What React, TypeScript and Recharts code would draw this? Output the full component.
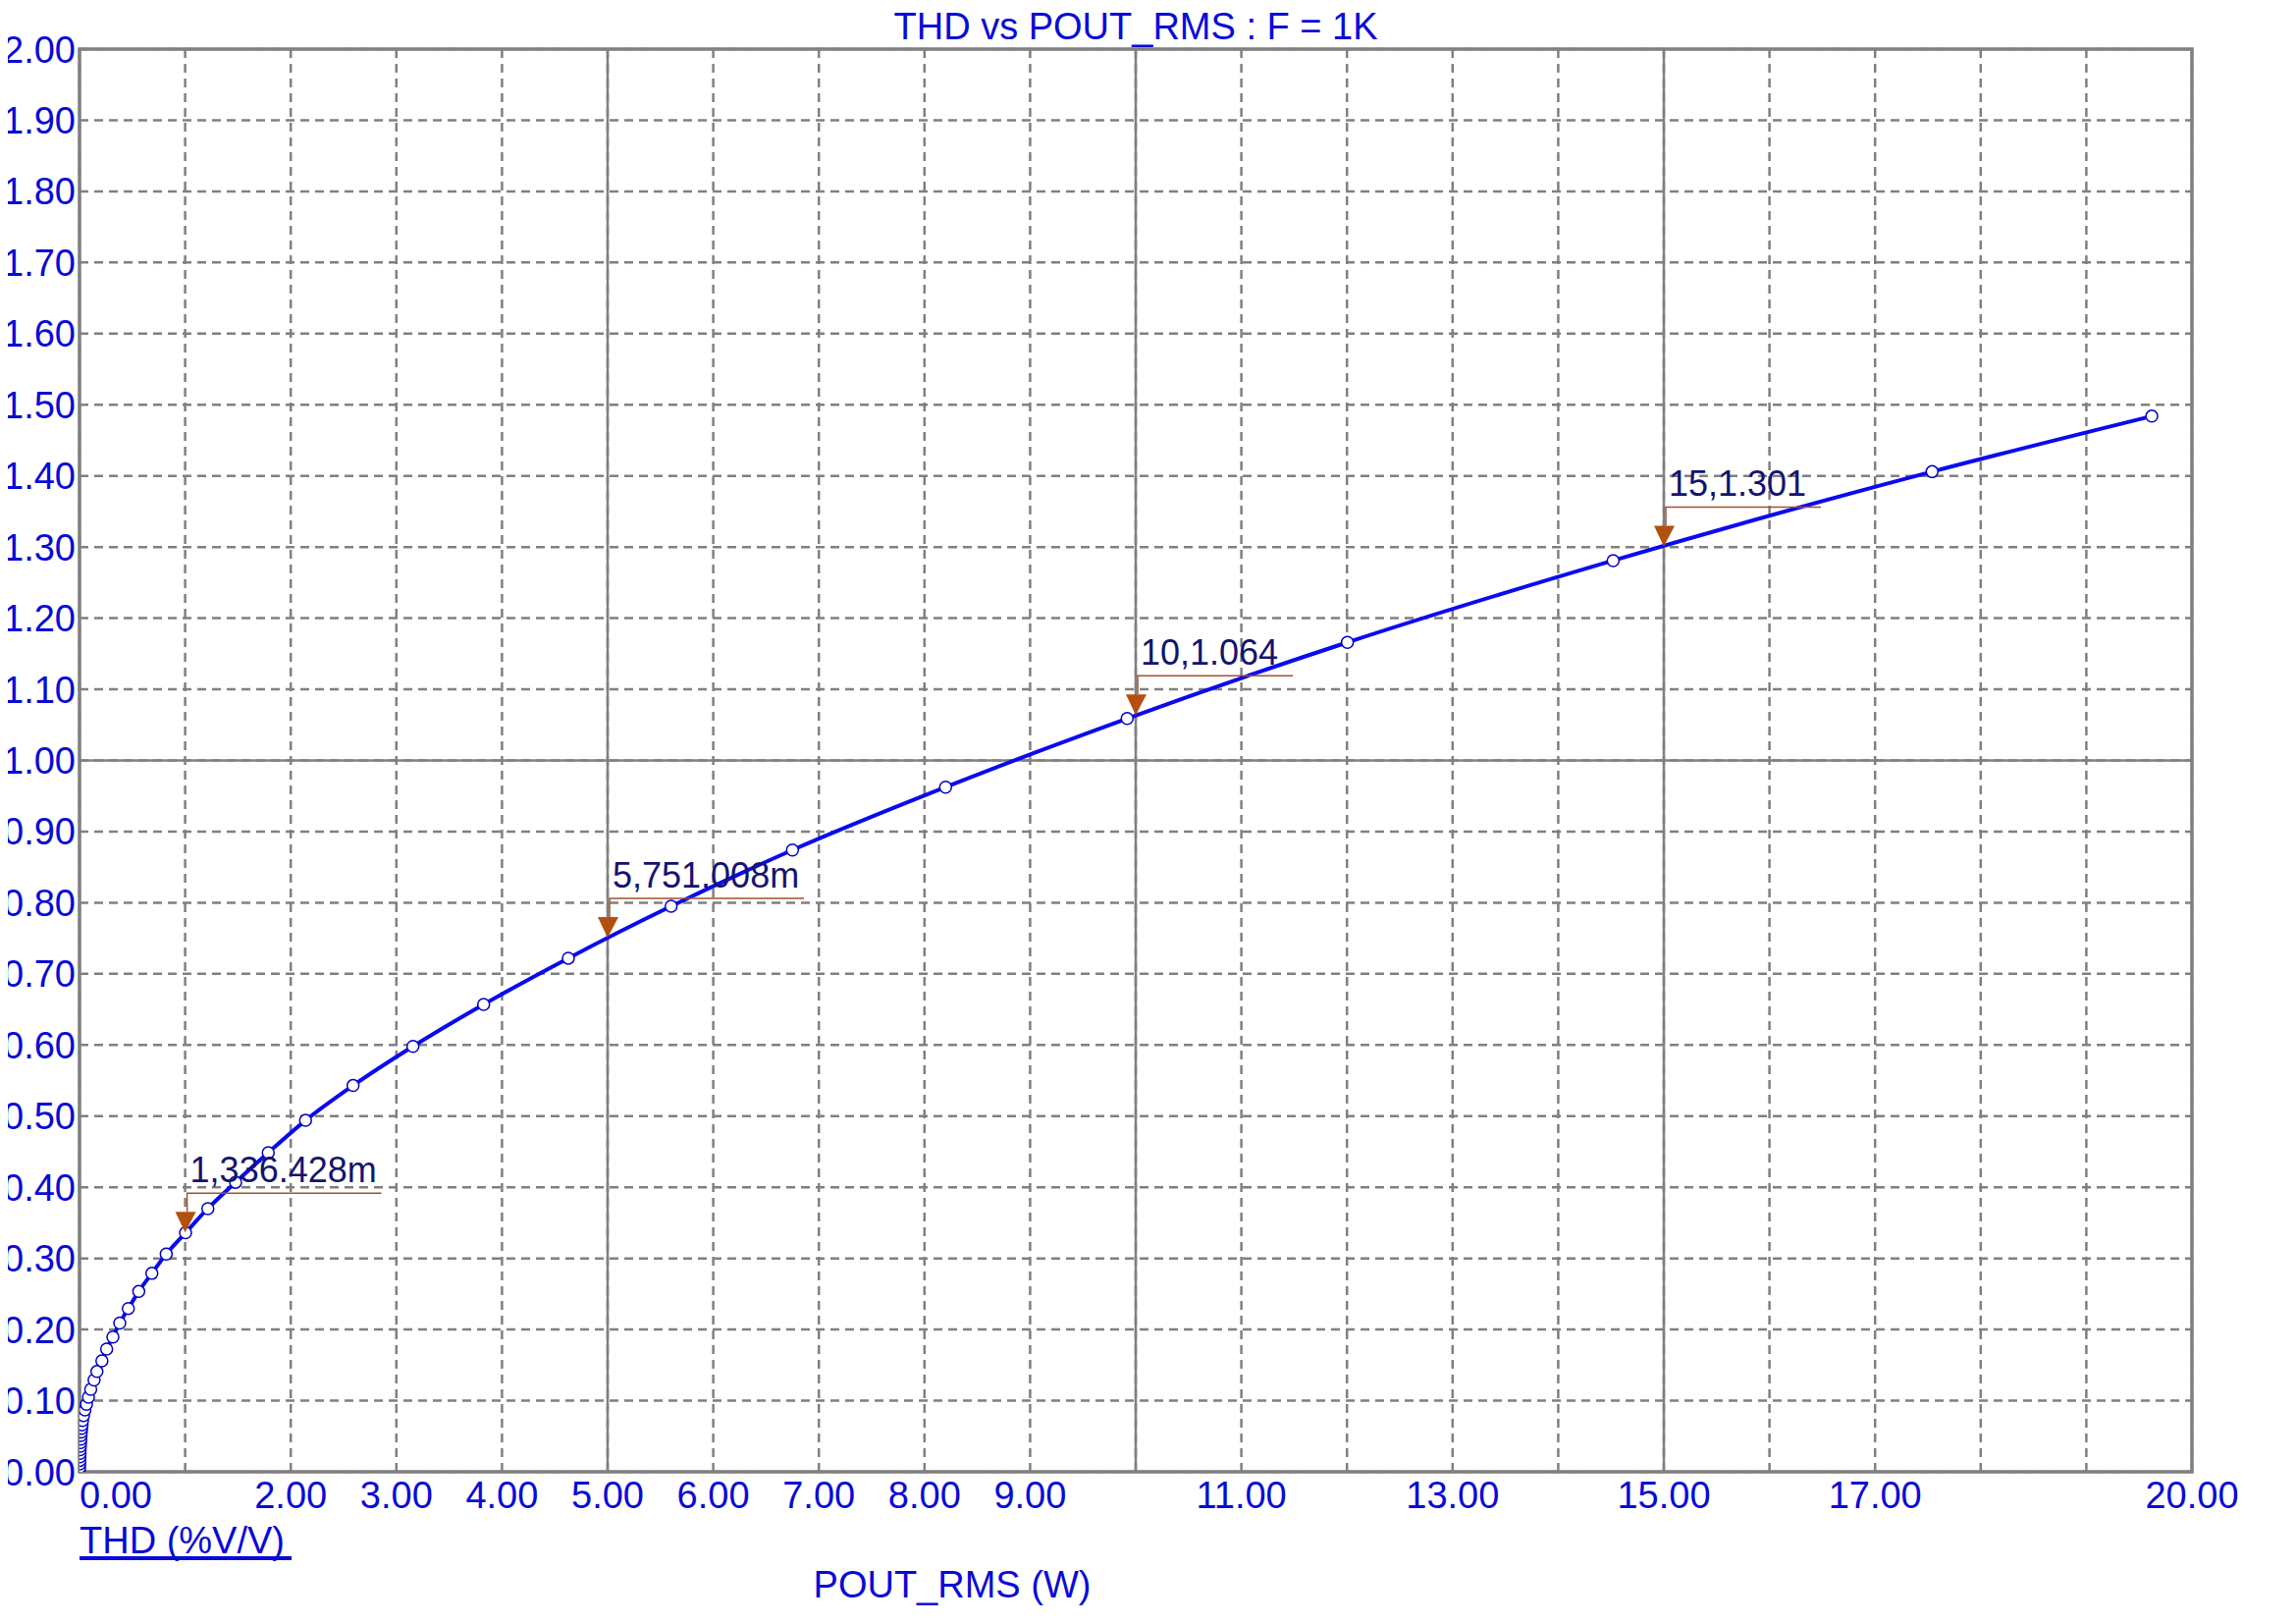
import {
  ComposedChart,
  Line,
  Scatter,
  XAxis,
  YAxis,
  CartesianGrid,
  ReferenceLine,
  ReferenceArea,
} from "recharts";

// POUT_RMS (W) vs THD (%V/V), one entry per simulated point
const POUT_W = [
  0, 0.001, 0.002, 0.003, 0.004, 0.005, 0.006, 0.008, 0.01, 0.012, 0.014, 0.017,
  0.02, 0.024, 0.029, 0.038, 0.051, 0.066, 0.085, 0.106, 0.138, 0.165, 0.212,
  0.257, 0.316, 0.381, 0.462, 0.561, 0.685, 0.821, 1.004, 1.215, 1.478, 1.787,
  2.14, 2.59, 3.157, 3.826, 4.628, 5.601, 6.75, 8.2, 9.919, 12.004, 14.52, 17.54,
  19.62,
];
const THD_PCT = [
  0, 0.006, 0.011, 0.016, 0.021, 0.026, 0.031, 0.036, 0.041, 0.046, 0.051, 0.056,
  0.061, 0.066, 0.072, 0.079, 0.087, 0.095, 0.105, 0.116, 0.129, 0.141, 0.156,
  0.1725, 0.1895, 0.209, 0.2296, 0.2535, 0.279, 0.306, 0.336, 0.37, 0.407, 0.4486,
  0.494, 0.543, 0.598, 0.657, 0.722, 0.795, 0.874, 0.9625, 1.059, 1.166, 1.281,
  1.406, 1.484,
];

// cursor marks
const MARK_X = [1, 5, 10, 15];
const MARK_Y = [0.336428, 0.751008, 1.064, 1.301];
const MARK_LABELS = ["1,336.428m", "5,751.008m", "10,1.064", "15,1.301"];

const X_TICKS = [0, 1, 2, 3, 4, 5, 6, 7, 8, 9, 10, 11, 12, 13, 14, 15, 16, 17, 18, 19, 20];
const X_LABELED = [0, 2, 3, 4, 5, 6, 7, 8, 9, 11, 13, 15, 17, 20];
const Y_TICKS = [
  0, 0.1, 0.2, 0.3, 0.4, 0.5, 0.6, 0.7, 0.8, 0.9, 1.0, 1.1, 1.2, 1.3, 1.4, 1.5,
  1.6, 1.7, 1.8, 1.9, 2.0,
];
const MAJOR_X = [5, 10, 15];
const MAJOR_Y = [1.0];

const BLUE_TEXT = "#0a0ad8";
const GRID = "#808080";
const FONT = "'Liberation Sans', Arial, sans-serif";

const data = POUT_W.map((x, i) => ({ x, y: THD_PCT[i] }));
const marks = MARK_X.map((x, i) => ({ x, y: MARK_Y[i], label: MARK_LABELS[i] }));

function XTick(props: any) {
  const { x, y, payload } = props;
  if (!X_LABELED.includes(payload.value)) return null;
  return (
    <text
      x={x}
      y={y}
      dy={37}
      textAnchor={payload.value === 0 ? "start" : "middle"}
      fontSize={38}
      fontFamily={FONT}
      fill={BLUE_TEXT}
    >
      {payload.value.toFixed(2)}
    </text>
  );
}

function YTick(props: any) {
  const { x, y, payload } = props;
  return (
    <text
      x={x}
      y={y}
      dy={13.5}
      textAnchor="end"
      fontSize={38}
      fontFamily={FONT}
      fill={BLUE_TEXT}
    >
      {payload.value.toFixed(2)}
    </text>
  );
}

function CursorFlag(props: any) {
  const { cx, cy, payload } = props;
  const len = payload.label.length * 20;
  return (
    <g>
      <polyline
        points={`${cx + 2},${cy - 21} ${cx + 2},${cy - 40} ${cx + len},${cy - 40}`}
        fill="none"
        stroke="#a0522d"
        strokeWidth={1.5}
      />
      <polygon points={`${cx - 10},${cy - 21} ${cx + 11},${cy - 21} ${cx},${cy}`} fill="#b4500f" />
      <text x={cx + 5} y={cy - 51} fontSize={36} fontFamily={FONT} fill="#14146e">
        {payload.label}
      </text>
    </g>
  );
}

export default function App() {
  const W = 2339;
  const H = 1653;
  return (
    <div style={{ position: "relative", left: -8, top: -8, width: W, height: H, background: "#fff" }}>
      <ComposedChart
        width={W}
        height={H}
        data={data}
        margin={{ top: 50, right: 106, bottom: 94, left: 0 }}
      >
        <CartesianGrid stroke={GRID} strokeWidth={2.5} strokeDasharray="9 6" />
        <XAxis
          type="number"
          dataKey="x"
          domain={[0, 20]}
          ticks={X_TICKS}
          interval={0}
          height={60}
          axisLine={false}
          tickLine={false}
          tickSize={0}
          tickMargin={0}
          tick={<XTick />}
          allowDataOverflow
        />
        <YAxis
          type="number"
          dataKey="y"
          domain={[0, 2]}
          ticks={Y_TICKS}
          interval={0}
          width={81}
          axisLine={false}
          tickLine={false}
          tickSize={0}
          tickMargin={4}
          tick={<YTick />}
          allowDataOverflow
        />
        {MAJOR_X.map((v) => (
          <ReferenceLine key={"x" + v} x={v} stroke={GRID} strokeWidth={2.5} />
        ))}
        {MAJOR_Y.map((v) => (
          <ReferenceLine key={"y" + v} y={v} stroke={GRID} strokeWidth={2.5} />
        ))}
        <ReferenceArea
          x1={0}
          x2={20}
          y1={0}
          y2={2}
          fill="none"
          fillOpacity={0}
          stroke={GRID}
          strokeWidth={3.5}
          ifOverflow="visible"
        />
        <Line
          type="monotone"
          dataKey="y"
          stroke="#0a0af0"
          strokeWidth={4}
          dot={{ r: 6, fill: "#ffffff", stroke: "#0000c8", strokeWidth: 1.5 }}
          activeDot={false}
          isAnimationActive={false}
        />
        <Scatter data={marks} dataKey="y" shape={<CursorFlag />} isAnimationActive={false} />
      </ComposedChart>
      <svg
        width={W}
        height={H}
        style={{ position: "absolute", left: 0, top: 0, pointerEvents: "none" }}
      >
        <text x={1157} y={40} textAnchor="middle" fontSize={38} fontFamily={FONT} fill={BLUE_TEXT}>
          THD vs POUT_RMS : F = 1K
        </text>
        <text x={970} y={1627} textAnchor="middle" fontSize={38} fontFamily={FONT} fill={BLUE_TEXT}>
          POUT_RMS (W)
        </text>
        <text x={81} y={1582} fontSize={38} fontFamily={FONT} fill={BLUE_TEXT}>
          THD (%V/V)
        </text>
        <rect x={81} y={1585} width={216} height={4} fill={BLUE_TEXT} />
      </svg>
    </div>
  );
}
